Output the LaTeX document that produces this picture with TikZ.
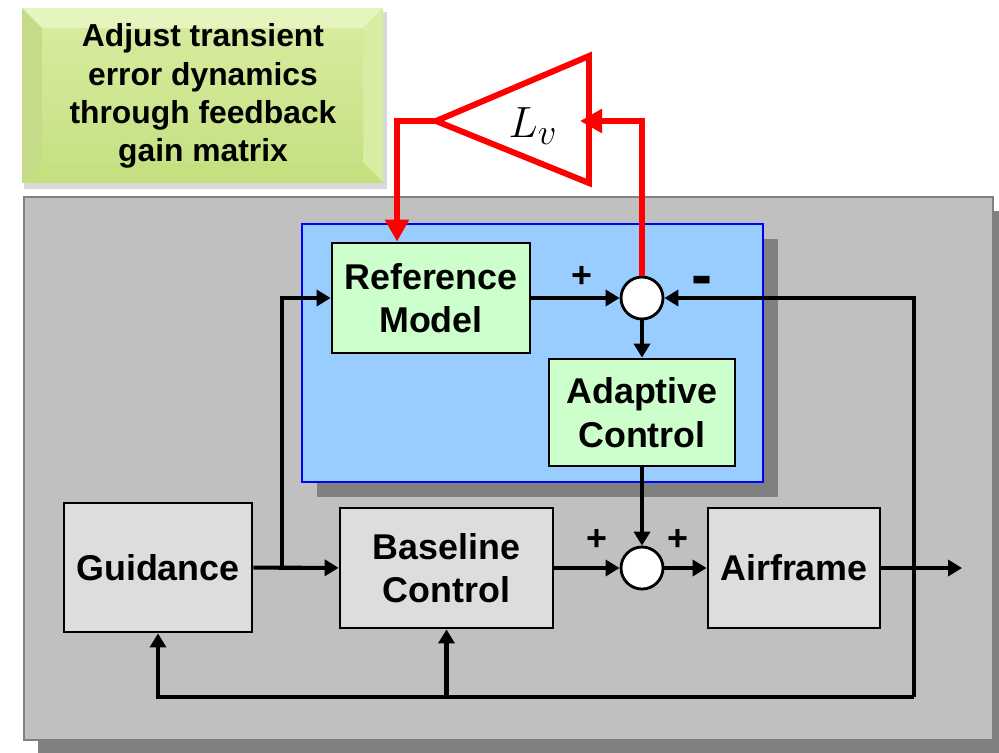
\documentclass[tikz,border=0pt]{standalone}
\usepackage{fontspec}
\setmainfont{Liberation Sans}
\usetikzlibrary{arrows.meta,positioning}
\definecolor{outergray}{RGB}{192,192,192}
\definecolor{framegray}{RGB}{128,128,128}
\definecolor{shadowgray}{RGB}{128,128,128}
\definecolor{adaptblue}{RGB}{153,204,255}
\definecolor{boxgreen}{RGB}{204,255,204}
\definecolor{boxgray}{RGB}{221,221,221}
\definecolor{calloutlight}{RGB}{222,240,170}
\definecolor{calloutdark}{RGB}{196,224,128}
\definecolor{bevellight}{RGB}{230,244,190}
\definecolor{beveldark}{RGB}{196,220,136}
\begin{document}
\begin{tikzpicture}[x=0.02cm,y=-0.02cm,line width=2.3pt,>={Triangle[length=0.28cm,width=0.32cm]}]
\tikzstyle block=[draw,line width=1.6pt,font=\fontsize{20.4}{24.8}\selectfont\bfseries,align=center,inner sep=0pt]
\tikzstyle greyblock=[block,fill=boxgray]
\tikzstyle greenblock=[block,fill=boxgreen]
\tikzstyle sumnode=[draw,circle,fill=white,line width=1.6pt,minimum size=0.84cm,inner sep=0pt]
\tikzstyle redline=[red,line width=3.4pt,-{Triangle[length=0.44cm,width=0.46cm]}]
\tikzstyle sign=[font=\fontsize{20.4}{24}\selectfont\bfseries,inner sep=0pt]
 \useasboundingbox (0,0) rectangle (999,752);
 \begin{scope}[line width=1.5pt]
  \fill[shadowgray] (38,211) rectangle (1007,754);
  \draw[framegray,fill=outergray] (24,197) rectangle (993,740);
  \fill[shadowgray] (317,239) rectangle (778,497);
  \draw[blue,fill=adaptblue] (302,224) rectangle (763,482);
 \end{scope}
 \fill[black,opacity=.15] (24,12) rectangle (387,189);
 \shade[top color=calloutlight,bottom color=calloutdark] (22,8) rectangle (383,182);
 \fill[bevellight] (22,8) -- (383,8) -- (363,28) -- (42,28) -- cycle;
 \fill[beveldark] (22,8) -- (42,28) -- (42,162) -- (22,182) -- cycle;
 \fill[calloutdark] (22,182) -- (42,162) -- (363,162) -- (383,182) -- cycle;
 \fill[calloutlight!80!calloutdark] (383,8) -- (363,28) -- (363,162) -- (383,182) -- cycle;
 \fill[top color=calloutlight!70!calloutdark,bottom color=calloutdark!90!calloutlight] (42,28) rectangle (363,162);
 \node[align=center,font=\fontsize{18.1}{21.7}\selectfont\bfseries] (note) at (203,96)
  {Adjust transient\\error dynamics\\through feedback\\gain matrix};
 \draw[red,line width=3.4pt,line join=miter,fill=white] (589,56) -- (589,183) -- (436,121) -- cycle;
 \coordinate (gin) at (580,121);
 \coordinate (gout) at (436,121);
 \node (lv) at (533,126) {\fontsize{31}{34}\selectfont$L_v$};
 \node[greyblock,minimum width=3.76cm,minimum height=2.58cm] (guid) at (158,567.5) {Guidance};
 \node[greyblock,minimum width=4.26cm,minimum height=2.4cm] (base) at (446.5,568) {Baseline\\Control};
 \node[sumnode] (sum2) at (642,568) {};
 \node[greyblock,minimum width=3.44cm,minimum height=2.4cm] (air) at (794,568) {Airframe};
 \node[greenblock,minimum width=3.96cm,minimum height=2.2cm] (ref) at (431,298) {Reference\\Model};
 \node[sumnode] (sum1) at (642,298) {};
 \node[greenblock,minimum width=3.72cm,minimum height=2.14cm] (adapt) at (642,412.5) {Adaptive\\Control};
 \node[sign] (p1) at (582,277) {+};
 \node[sign,font=\fontsize{36}{36}\selectfont\bfseries] (m1) at (702,286) {-};
 \node[sign] (p2) at (597,540) {+};
 \node[sign] (p3) at (678,540) {+};
 \coordinate (split) at (282,568);
 \coordinate (out) at (962,568);
 \coordinate (fbb) at (914,697);
 \draw[->] (guid) -- (base);
 \draw[->] (split) |- (ref);
 \draw[->] (ref) -- (sum1);
 \draw[->] (sum1) -- (adapt);
 \draw[->] (adapt) -- (sum2);
 \draw[->] (base) -- (sum2);
 \draw[->] (sum2) -- (air);
 \draw[->] (air) -- (out);
 \draw[->] (fbb) |- (sum1);
 \draw[->] (fbb) -| (guid);
 \draw[->] (base |- fbb) -- (base);
 \draw[redline] (sum1) |- (gin);
 \draw[redline] (gout) -| ([xshift=-0.68cm]ref.north);
\end{tikzpicture}
\end{document}
